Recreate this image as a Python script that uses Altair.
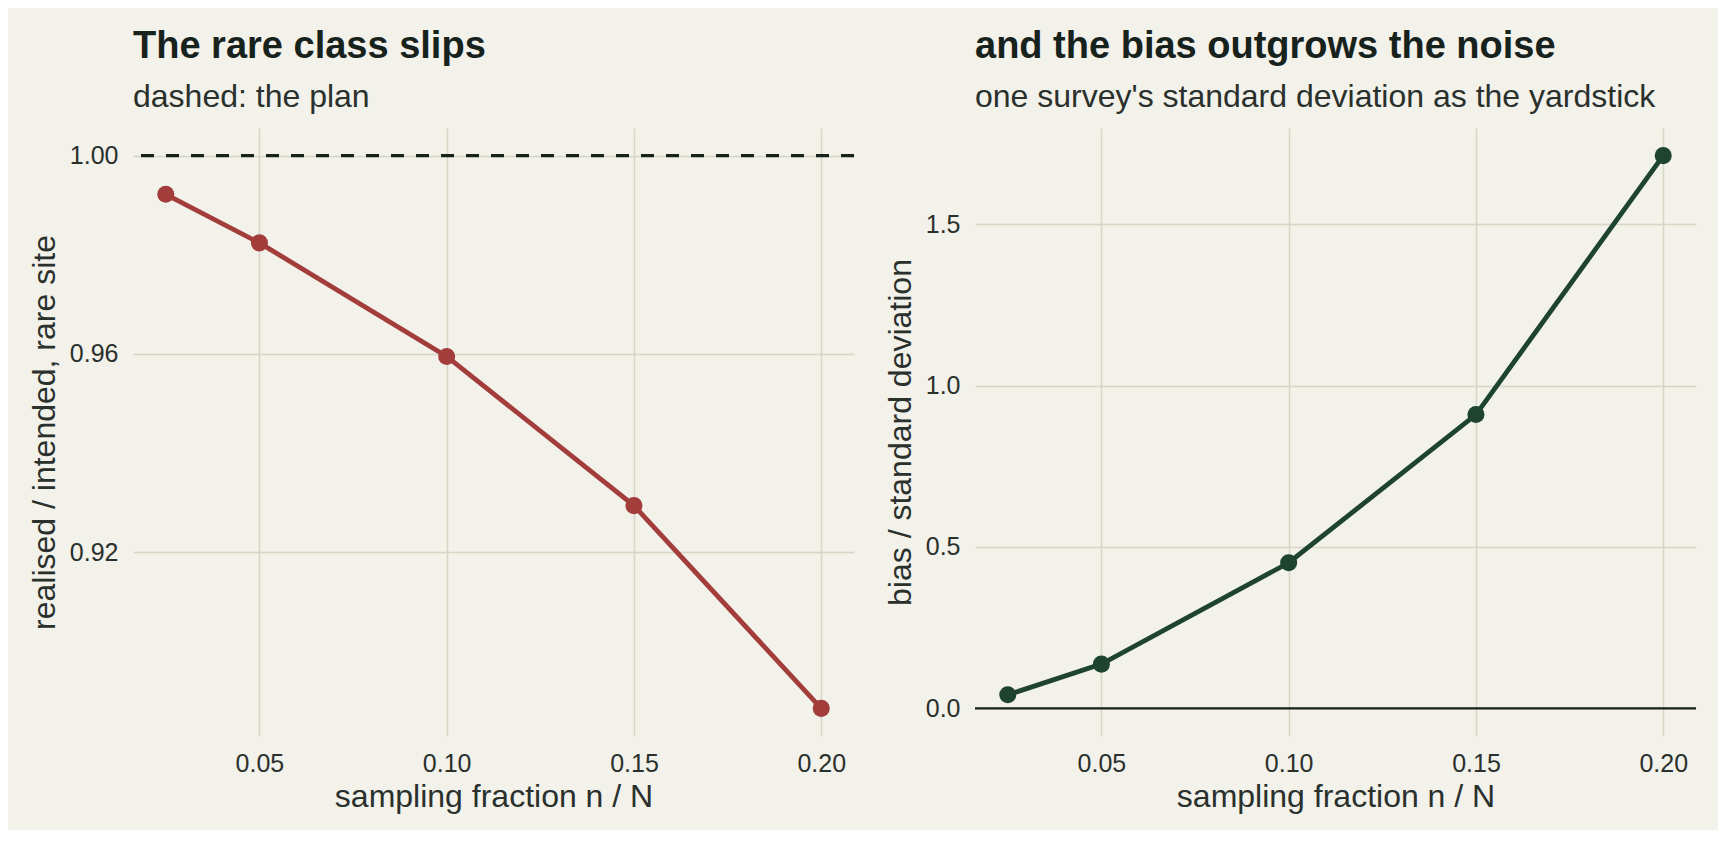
import altair as alt
import pandas as pd

# values
fraction = [0.025, 0.05, 0.10, 0.15, 0.20]
realised_ratio = [0.9922, 0.9824, 0.9595, 0.9294, 0.8885]
bias_sd = [0.042, 0.137, 0.451, 0.910, 1.712]
plan_level = [1.0]
zero_level = [0.0]

x_ticks = [0.05, 0.10, 0.15, 0.20]
left_ticks = [0.92, 0.96, 1.00]
right_ticks = [0.0, 0.5, 1.0, 1.5]

RED = "#a33d3c"
GREEN = "#1e4330"
INK = "#18221c"
TXT = "#2a302c"
BG = "#f2f1ea"
GRID = "#d6d6c4"
FONT = "Liberation Sans"


def expand(lo, hi, mult=0.05):
    # ggplot-style padding round the data range
    pad = (hi - lo) * mult
    return [lo - pad, hi + pad]


x_dom = expand(min(fraction), max(fraction))
left_dom = expand(min(realised_ratio), max(realised_ratio + plan_level))
right_dom = expand(min(bias_sd + zero_level), max(bias_sd))

left_df = pd.DataFrame({"fraction": fraction, "ratio": realised_ratio})
right_df = pd.DataFrame({"fraction": fraction, "bias": bias_sd})

x_enc = alt.X("fraction:Q", title="sampling fraction n / N",
              scale=alt.Scale(domain=x_dom, nice=False, zero=False),
              axis=alt.Axis(values=x_ticks, format=".2f"))

W, H = 721, 608

# left: realised vs intended share of the rare class
left_y = alt.Y("ratio:Q", title="realised / intended, rare site",
               scale=alt.Scale(domain=left_dom, nice=False, zero=False),
               axis=alt.Axis(values=left_ticks, format=".2f"))

plan = alt.Chart(pd.DataFrame({"ratio": plan_level})).mark_rule(
    color=INK, strokeWidth=3.2, strokeDash=[13, 12]
).encode(y=alt.Y("ratio:Q", scale=alt.Scale(domain=left_dom, nice=False, zero=False)))

left_line = alt.Chart(left_df).mark_line(color=RED, strokeWidth=4.8).encode(x=x_enc, y=left_y)
left_pts = alt.Chart(left_df).mark_circle(color=RED, size=290, opacity=1).encode(x=x_enc, y=left_y)

left = alt.layer(plan, left_line, left_pts).properties(
    width=W, height=H,
    title=alt.TitleParams("The rare class slips", subtitle="dashed: the plan",
                          anchor="start", frame="group"),
)

# right: bias in units of one survey's standard deviation
right_y = alt.Y("bias:Q", title="bias / standard deviation",
                scale=alt.Scale(domain=right_dom, nice=False, zero=False),
                axis=alt.Axis(values=right_ticks, format=".1f"))

zero = alt.Chart(pd.DataFrame({"bias": zero_level})).mark_rule(
    color=INK, strokeWidth=2.2
).encode(y=alt.Y("bias:Q", scale=alt.Scale(domain=right_dom, nice=False, zero=False)))

right_line = alt.Chart(right_df).mark_line(color=GREEN, strokeWidth=4.8).encode(x=x_enc, y=right_y)
right_pts = alt.Chart(right_df).mark_circle(color=GREEN, size=290, opacity=1).encode(x=x_enc, y=right_y)

right = alt.layer(zero, right_line, right_pts).properties(
    width=W, height=H,
    title=alt.TitleParams("and the bias outgrows the noise",
                          subtitle="one survey's standard deviation as the yardstick",
                          anchor="start", frame="group"),
)

chart = alt.hconcat(left, right, spacing=28).properties(
    padding={"left": 20, "top": 20, "right": 20, "bottom": 18}
).configure(
    background=BG, font=FONT
).configure_view(
    stroke=None
).configure_axis(
    domain=False, ticks=False,
    grid=True, gridColor=GRID, gridWidth=1.5,
    labelFont=FONT, labelFontSize=25, labelColor=TXT, labelPadding=15,
    titleFont=FONT, titleFontSize=32, titleFontWeight="normal", titleColor=TXT,
    titlePadding=8,
).configure_axisX(
    titlePadding=5,
).configure_title(
    font=FONT, fontSize=38, fontWeight="bold", color=INK,
    subtitleFont=FONT, subtitleFontSize=32, subtitleColor=TXT,
    subtitlePadding=16, offset=15,
)

chart.save("out.html", embed_options={"renderer": "svg", "actions": False})
